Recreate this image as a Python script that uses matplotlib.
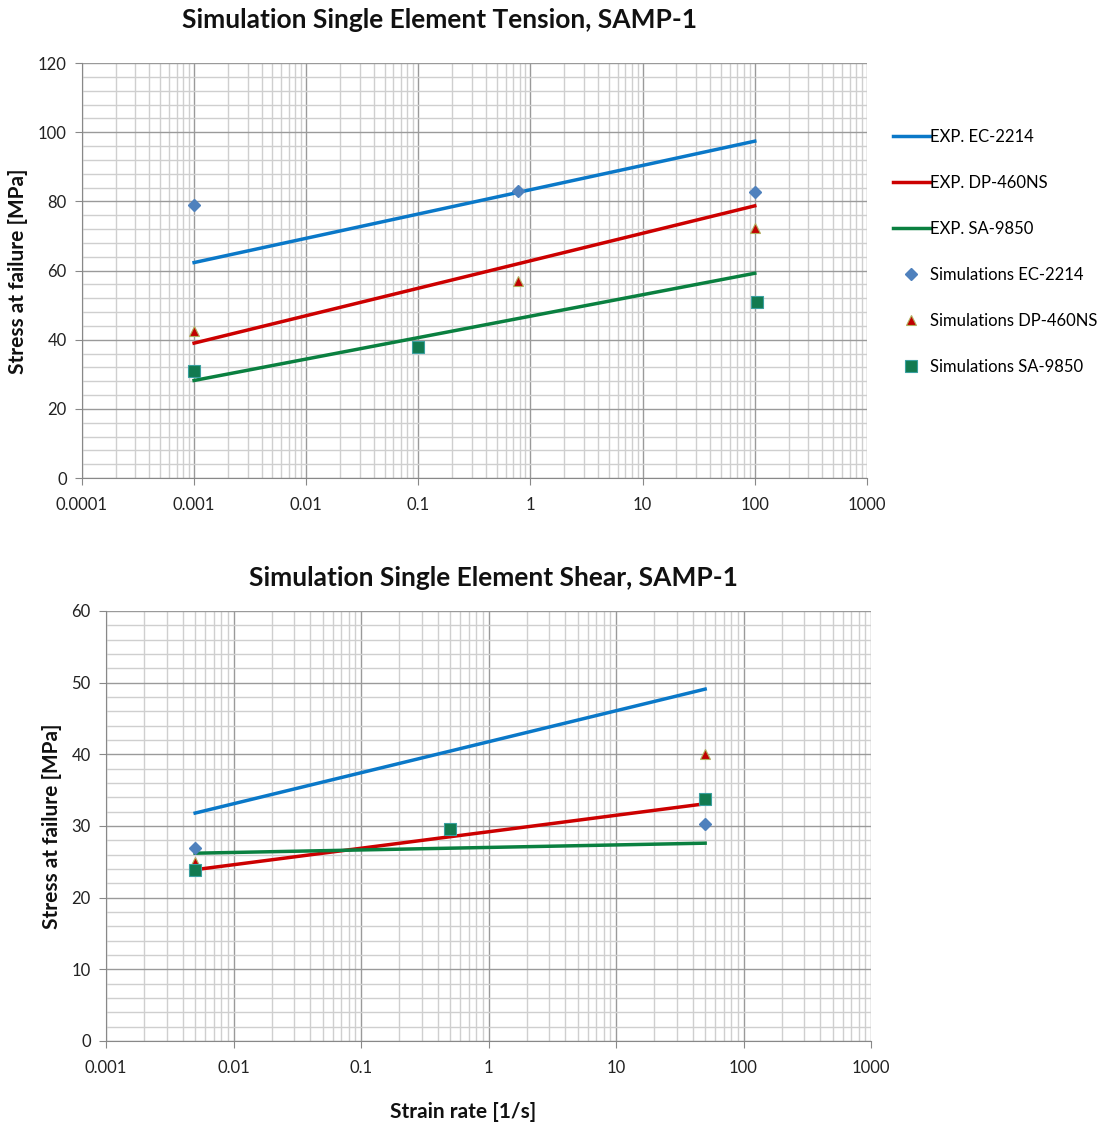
import matplotlib
matplotlib.use("Agg")
import matplotlib.pyplot as plt
from matplotlib.ticker import LogLocator, MultipleLocator, FixedLocator, FixedFormatter, NullFormatter

plt.rcParams['font.family'] = ['Lato', 'DejaVu Sans']

# ---- Data: Tension ----
t_exp_x = [0.001, 100]
t_exp_ec = [62.3, 97.4]
t_exp_dp = [39.0, 78.7]
t_exp_sa = [28.2, 59.2]
t_sim_ec_x = [0.001, 0.78, 100]
t_sim_ec = [79.0, 83.0, 82.8]
t_sim_dp_x = [0.001, 0.78, 100]
t_sim_dp = [42.5, 57.0, 72.3]
t_sim_sa_x = [0.001, 0.1, 105]
t_sim_sa = [31.0, 38.0, 51.0]

# ---- Data: Shear ----
s_exp_x = [0.005, 50]
s_exp_ec = [31.8, 49.1]
s_exp_dp = [23.9, 33.1]
s_exp_sa = [26.2, 27.6]
s_sim_x = [0.005, 0.5, 50]
s_sim_ec = [26.9, 29.6, 30.3]
s_sim_dp = [25.0, 29.6, 40.1]
s_sim_sa = [23.9, 29.6, 33.8]

top_xticks = [0.0001, 0.001, 0.01, 0.1, 1, 10, 100, 1000]
top_xlabels = ["0.0001", "0.001", "0.01", "0.1", "1", "10", "100", "1000"]
bot_xticks = [0.001, 0.01, 0.1, 1, 10, 100, 1000]
bot_xlabels = ["0.001", "0.01", "0.1", "1", "10", "100", "1000"]

legend_labels = ["EXP. EC-2214", "EXP. DP-460NS", "EXP. SA-9850",
                 "Simulations EC-2214", "Simulations DP-460NS", "Simulations SA-9850"]

c_blue = '#0a78c8'
c_red = '#cc0000'
c_green = '#0a8040'
m_ec = dict(marker='D', color='#4f81bd', markersize=6, linestyle='none', markeredgecolor='#4f81bd')
m_dp = dict(marker='^', color='#c00000', markersize=7, linestyle='none', markeredgecolor='#b0b060', markeredgewidth=0.8)
m_sa = dict(marker='s', color='#127a50', markersize=8, linestyle='none', markeredgecolor='#3aa0a0', markeredgewidth=0.8)

fig = plt.figure(figsize=(11.09, 11.25), dpi=100)
ax1 = fig.add_axes([0.0739, 0.5751, 0.7078, 0.3689])
ax2 = fig.add_axes([0.0956, 0.0747, 0.6898, 0.3822])

def style(ax, xmin, xmax, ymax, ymaj, ymin_step, xticks, xlabels):
    ax.set_xscale('log')
    ax.set_xlim(xmin, xmax)
    ax.set_ylim(0, ymax)
    ax.xaxis.set_major_locator(FixedLocator(xticks))
    ax.xaxis.set_major_formatter(FixedFormatter(xlabels))
    ax.xaxis.set_minor_locator(LogLocator(base=10, subs=range(2, 10)))
    ax.xaxis.set_minor_formatter(NullFormatter())
    ax.yaxis.set_major_locator(MultipleLocator(ymaj))
    ax.yaxis.set_minor_locator(MultipleLocator(ymin_step))
    ax.grid(which='major', color='#9a9a9a', linewidth=1.0)
    ax.grid(which='minor', color='#cfcfcf', linewidth=1.0)
    ax.set_axisbelow(True)
    for s in ['top', 'right']:
        ax.spines[s].set_visible(False)
    for s in ['left', 'bottom']:
        ax.spines[s].set_color('#888888')
    ax.tick_params(which='major', length=5, color='#888888', labelsize=12, labelcolor='#222222')
    ax.tick_params(axis='x', which='major', pad=9)
    ax.tick_params(axis='y', which='major', pad=6)
    ax.tick_params(which='minor', length=0)

style(ax1, 1e-4, 1e3, 120, 20, 4, top_xticks, top_xlabels)
style(ax2, 1e-3, 1e3, 60, 10, 2, bot_xticks, bot_xlabels)

# Tension
h = []
h += ax1.plot(t_exp_x, t_exp_ec, color=c_blue, lw=2.5)
h += ax1.plot(t_exp_x, t_exp_dp, color=c_red, lw=2.5)
h += ax1.plot(t_exp_x, t_exp_sa, color=c_green, lw=2.5)
h += ax1.plot(t_sim_ec_x, t_sim_ec, **m_ec)
h += ax1.plot(t_sim_dp_x, t_sim_dp, **m_dp)
h += ax1.plot(t_sim_sa_x, t_sim_sa, **m_sa)
for hh in h:
    hh.set_clip_on(False)

# Shear
ax2.plot(s_exp_x, s_exp_ec, color=c_blue, lw=2.5)
ax2.plot(s_exp_x, s_exp_dp, color=c_red, lw=2.5)
ax2.plot(s_exp_x, s_exp_sa, color=c_green, lw=2.5)
ax2.plot(s_sim_x, s_sim_ec, **m_ec)
ax2.plot(s_sim_x, s_sim_dp, **m_dp)
ax2.plot(s_sim_x, s_sim_sa, **m_sa)

fig.text(440 / 1109, 1 - 20 / 1125, "Simulation Single Element Tension, SAMP-1",
         fontsize=19, fontweight='bold', color='#111111', ha='center', va='center')
fig.text(493 / 1109, 1 - 578 / 1125, "Simulation Single Element Shear, SAMP-1",
         fontsize=19, fontweight='bold', color='#111111', ha='center', va='center')
fig.text(18 / 1109, 1 - 271 / 1125, "Stress at failure [MPa]", rotation=90,
         fontsize=15, fontweight='bold', color='#111111', ha='center', va='center')
fig.text(52 / 1109, 1 - 826 / 1125, "Stress at failure [MPa]", rotation=90,
         fontsize=15, fontweight='bold', color='#111111', ha='center', va='center')
fig.text(463 / 1109, 1 - 1112 / 1125, "Strain rate [1/s]",
         fontsize=15, fontweight='bold', color='#111111', ha='center', va='center')

fig.legend(h, legend_labels, loc='upper left', bbox_to_anchor=(893 / 1109, 1 - 129 / 1125),
           frameon=False, fontsize=12, labelspacing=1.8, handlelength=2.2,
           handletextpad=0.0, borderaxespad=0, borderpad=0)

fig.savefig("out.png", dpi=100)
